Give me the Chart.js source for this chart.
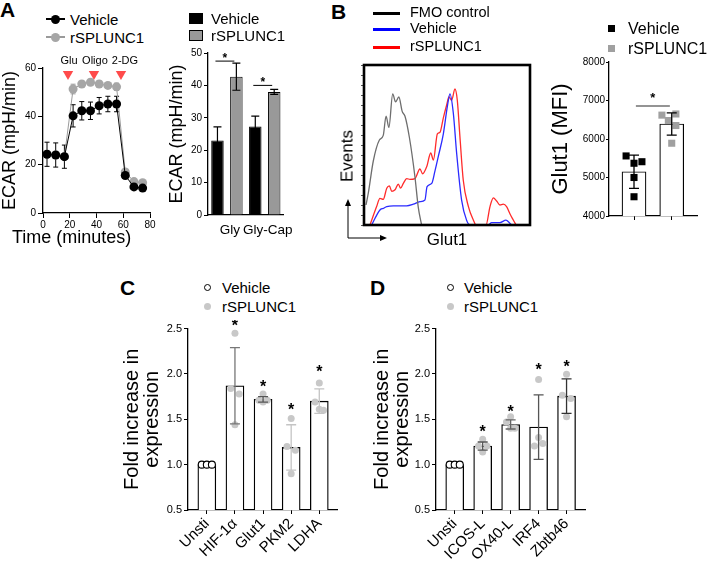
<!DOCTYPE html>
<html>
<head>
<meta charset="utf-8">
<script src="https://cdn.jsdelivr.net/npm/chart.js@4.4.1/dist/chart.umd.min.js"></script>
<style>
  body { margin: 0; background: #fff; }
  #page { position: relative; width: 709px; height: 563px; overflow: hidden; font-family: "Liberation Sans", Arial, sans-serif; color: #000; }
  #page canvas { position: absolute; }
  .t { position: absolute; white-space: nowrap; }
  .mk { position: absolute; box-sizing: border-box; }
</style>
</head>
<body>
<div id="page"></div>
<script>
// ---- A: ECAR time course ----
const seahorseTime = [3, 9.5, 16, 22.5, 29, 35.5, 42, 48.5, 55, 61.5, 68, 74.5];
const ecarVehicle = [24.3, 24, 23.3, 40.2, 42.3, 42.3, 44.4, 45.1, 45.1, 15.5, 10.8, 10.3];
const ecarVehicleSem = [5, 5, 4.8, 4.6, 3.8, 3.6, 3.4, 3.2, 3.2, 1.2, 1, 1];
const ecarSplunc = [24.3, 24, 23.3, 51.3, 53.4, 54.1, 53.4, 52.8, 52.2, 17, 13, 12.5];
const ecarSpluncSem = [1, 1, 1, 2, 1, 1, 1.2, 1, 1.5, 1, 1, 1];
const injectTime = [18.7, 38.1, 58.3];
const injectName = ['Glu', 'Oligo', '2-DG'];
const injectMark = 57.5;

// ---- A: glycolysis / glycolytic capacity ----
const glyCats = ['Gly', 'Gly-Cap'];
const glyVehicle = [23, 27.3];
const glyVehicleSem = [4.2, 3.2];
const glySplunc = [42.7, 38];
const glySpluncSem = [4.2, 0.8];
const glySigAt = [47.5, 40];

// ---- B: Glut1 histogram (% of max) ----
const fmoX = [1.2, 2.6, 5.6, 9.2, 11.6, 13.3, 15, 17.3, 19, 21, 23, 24.7, 27.3, 30.7, 32.7, 34.7];
const fmoY = [12.5, 20, 40, 53, 56, 68, 61, 82, 77, 80, 71, 68, 55, 30, 11, 0];
const vehX = [4.6, 9.6, 11.6, 13.7, 17.7, 25.7, 29.7, 33.7, 36.7, 38, 40.8, 42.8, 44.8, 47.8, 50.2, 51.8, 53.8, 55.8, 58.8, 61.8, 63.9, 74.9, 76.9, 81.9, 85.5, 88, 89];
const vehY = [0, 9.4, 10.4, 11.5, 12, 12, 13, 14.6, 15.6, 24, 26, 34, 43, 57, 74, 82, 70, 45, 15.6, 3, 0, 0, 1.5, 1.5, 3, 1, 0];
const splX = [3.6, 7.6, 9.6, 11.6, 13.7, 15.3, 16.7, 18.7, 20.7, 22, 23.7, 25.7, 27.7, 30.7, 33.7, 35.3, 37.8, 40.2, 41.8, 44.2, 45.8, 47.8, 49.8, 51.2, 52.8, 54.8, 56.2, 57.8, 59.8, 62.9, 65.9, 67.5, 73.5, 75.9, 77.9, 79.9, 81.9, 83.9, 85.9, 87.9, 90, 91.6];
const splY = [0, 11.5, 16.7, 16, 23, 24.4, 21, 22, 25.6, 23, 26, 29, 28.5, 29, 35, 32, 36.5, 45, 40.6, 57, 58, 67, 75, 80, 78, 85, 78, 55, 28, 11.5, 3, 0, 0, 11.5, 17, 15, 12.5, 13, 11.5, 7, 3, 0];

// ---- B: Glut1 MFI ----
const mfiGroups = ['Vehicle', 'rSPLUNC1'];
const mfiMean = [5150, 6390];
const mfiSd = [433, 290];
const mfiVehicle = [5560, 5370, 5410, 5000, 4500];
const mfiSplunc = [6620, 6650, 6480, 6350, 5890];
const mfiSigAt = 6857;

// ---- C: glycolysis genes ----
const glycoGenes = ['Unsti', 'HIF-1\u03b1', 'Glut1', 'PKM2', 'LDHA'];
const glycoFold = [1.0, 1.87, 1.72, 1.19, 1.70];
const glycoSd = [0, 0.42, 0.03, 0.25, 0.135];
const glycoReps = [[1, 1, 1], [2.45, 1.84, 1.78, 1.44], [1.78, 1.71, 1.71, 1.69], [1.51, 1.20, 1.16, 0.90], [1.90, 1.69, 1.60, 1.61]];
const glycoStar = [null, 2.57, 1.90, 1.645, 2.07];

// ---- D: DC activation genes ----
const costimGenes = ['Unsti', 'ICOS-L', 'OX40-L', 'IRF4', 'Zbtb46'];
const costimFold = [1.0, 1.205, 1.443, 1.414, 1.755];
const costimSd = [0, 0.045, 0.05, 0.355, 0.19];
const costimReps = [[1, 1, 1], [1.28, 1.205, 1.205, 1.14], [1.527, 1.47, 1.40, 1.40], [1.94, 1.205, 1.234, 1.30], [1.997, 1.766, 1.73, 1.527]];
const costimStar = [null, 1.41, 1.63, 2.09, 2.12];

Chart.defaults.font.family = '"Liberation Sans", Arial, sans-serif';
Chart.defaults.color = '#000';
Chart.defaults.animation = false;
Chart.defaults.responsive = false;
Chart.defaults.devicePixelRatio = 1;
Chart.defaults.plugins.legend.display = false;
Chart.defaults.plugins.tooltip.enabled = false;

const page = document.getElementById('page');
const zip = (xs, ys) => xs.map((x, i) => ({ x: x, y: ys[i] }));
const fixW = w => s => { s.width = w; };
const fixH = h => s => { s.height = h; };
const axisBorder = { display: true, color: '#000', width: 1.3 };
const tickGrid = len => ({ drawOnChartArea: false, tickLength: len, color: '#000', lineWidth: 1 });
const spread = { 3: [-0.18, 0, 0.18], 4: [0, -0.15, 0.15, 0] };

function makeCanvas(left, top, w, h) {
    let c = document.createElement('canvas');
    c.width = w;
    c.height = h;
    c.style.left = left + 'px';
    c.style.top = top + 'px';
    page.appendChild(c);
    return c.getContext('2d');
}

function addText(str, x, y, size, extra) {
    let el = document.createElement('div');
    el.className = 't';
    el.textContent = str;
    el.style.left = x + 'px';
    el.style.top = (y - size * 0.5) + 'px';
    el.style.fontSize = size + 'px';
    el.style.lineHeight = size + 'px';
    if (extra) Object.assign(el.style, extra);
    page.appendChild(el);
    return el;
}

function addMark(x, y, w, h, css) {
    let el = document.createElement('div');
    el.className = 'mk';
    el.style.left = x + 'px';
    el.style.top = y + 'px';
    el.style.width = w + 'px';
    el.style.height = h + 'px';
    Object.assign(el.style, css);
    page.appendChild(el);
}

function drawErr(ctx, x, top, bot, half) {
    ctx.beginPath();
    ctx.moveTo(x, top); ctx.lineTo(x, bot);
    ctx.moveTo(x - half, top); ctx.lineTo(x + half, top);
    ctx.moveTo(x - half, bot); ctx.lineTo(x + half, bot);
    ctx.stroke();
}

function drawStar(ctx, x, y, size) {
    ctx.font = 'bold ' + size + 'px "Liberation Sans"';
    ctx.textAlign = 'center';
    ctx.textBaseline = 'alphabetic';
    ctx.fillText('*', x, y + size * 0.57);
}

// replicate dots spread around each category index
function repPoints(reps, idxs) {
    let pts = [];
    idxs.forEach(i => {
        let jit = spread[reps[i].length] || reps[i].map(() => 0);
        reps[i].forEach((v, k) => pts.push({ x: i + jit[k], y: v }));
    });
    return pts;
}

/* ---------- A, left: ECAR kinetics ---------- */
const seahorseDecor = {
    id: 'seahorseDecor',
    beforeDatasetsDraw(chart) {
        const { ctx, scales: { x, y } } = chart;
        ctx.save();
        ctx.lineWidth = 1;
        [[ecarSplunc, ecarSpluncSem, '#9a9a9a'], [ecarVehicle, ecarVehicleSem, '#000']].forEach(([m, e, col]) => {
            ctx.strokeStyle = col;
            m.forEach((v, i) => drawErr(ctx, x.getPixelForValue(seahorseTime[i]),
                y.getPixelForValue(v + e[i]), y.getPixelForValue(v - e[i]), 2.5));
        });
        ctx.restore();
    },
    afterDatasetsDraw(chart) {
        const { ctx, scales: { x, y } } = chart;
        ctx.save();
        ctx.fillStyle = '#000';
        ctx.font = '11px "Liberation Sans"';
        ctx.textAlign = 'center';
        ctx.textBaseline = 'middle';
        injectTime.forEach((t, i) => ctx.fillText(injectName[i], x.getPixelForValue(t) + (i === 2 ? 4 : 1), y.getPixelForValue(injectMark) - 13));
        ctx.restore();
    }
};

new Chart(makeCanvas(0, 50, 165, 200), {
    type: 'line',
    data: {
        datasets: [
            { label: 'Vehicle', data: zip(seahorseTime, ecarVehicle), borderColor: '#000', borderWidth: 1,
              pointRadius: 4.5, pointBackgroundColor: '#000', pointBorderWidth: 0, order: 0 },
            { label: 'rSPLUNC1', data: zip(seahorseTime, ecarSplunc), borderColor: '#9a9a9a', borderWidth: 1,
              pointRadius: 4.5, pointBackgroundColor: '#a6a6a6', pointBorderWidth: 0, order: 1 },
            { label: 'injection', data: injectTime.map(t => ({ x: t, y: injectMark })), showLine: false,
              pointStyle: 'triangle', pointRotation: 180, pointRadius: 6, pointBackgroundColor: '#ff4b4b',
              pointBorderWidth: 0, order: 2, clip: false }
        ]
    },
    options: {
        layout: { padding: { top: 18, right: 15 } },
        scales: {
            x: { type: 'linear', min: 0, max: 80, ticks: { stepSize: 20, font: { size: 10 }, padding: 1 },
                 grid: tickGrid(5), border: axisBorder, afterFit: fixH(37) },
            y: { min: 0, max: 60, ticks: { stepSize: 20, font: { size: 10 }, padding: 2 },
                 grid: tickGrid(5), border: axisBorder, afterFit: fixW(43),
                 title: { display: true, text: 'ECAR (mpH/min)', font: { size: 18, lineHeight: 1 }, padding: { top: 1, bottom: 0 } } }
        }
    },
    plugins: [seahorseDecor]
});

/* ---------- A, right: Gly / Gly-Cap bars ---------- */
const glyDecor = {
    id: 'glyDecor',
    afterDatasetsDraw(chart) {
        const { ctx, scales: { y } } = chart;
        const veh = chart.getDatasetMeta(0).data;
        const spl = chart.getDatasetMeta(1).data;
        ctx.save();
        ctx.strokeStyle = '#000';
        ctx.lineWidth = 1.2;
        [[veh, glyVehicle, glyVehicleSem], [spl, glySplunc, glySpluncSem]].forEach(([bars, m, e]) => {
            bars.forEach((b, i) => drawErr(ctx, b.x, y.getPixelForValue(m[i] + e[i]), y.getPixelForValue(m[i] - e[i]), 4));
        });
        ctx.lineWidth = 1;
        ctx.fillStyle = '#000';
        glySigAt.forEach((v, i) => {
            const py = y.getPixelForValue(v);
            ctx.beginPath();
            ctx.moveTo(veh[i].x - 2, py); ctx.lineTo(spl[i].x - 2, py);
            ctx.stroke();
            drawStar(ctx, (veh[i].x + spl[i].x) / 2 - 2, py - 6, 12);
        });
        ctx.restore();
    }
};

new Chart(makeCanvas(168, 45, 130, 200), {
    type: 'bar',
    data: {
        labels: glyCats,
        datasets: [
            { label: 'Vehicle', data: glyVehicle, backgroundColor: '#000', borderColor: '#000', borderWidth: 1 },
            { label: 'rSPLUNC1', data: glySplunc, backgroundColor: '#999', borderColor: '#000', borderWidth: 1 }
        ]
    },
    options: {
        categoryPercentage: 1,
        barPercentage: 0.66,
        layout: { padding: { top: 8, right: 6 } },
        scales: {
            x: { ticks: { font: { size: 13.5 }, padding: 7, autoSkip: false, maxRotation: 0, minRotation: 0, labelOffset: 3 },
                 grid: { display: false, drawTicks: false },
                 border: axisBorder, afterFit: fixH(30) },
            y: { min: 0, max: 50, ticks: { stepSize: 10, font: { size: 10 }, padding: 2 },
                 grid: tickGrid(4), border: axisBorder, afterFit: fixW(40),
                 title: { display: true, text: 'ECAR (mpH/min)', font: { size: 18, lineHeight: 1 }, padding: { top: 0, bottom: 0 } } }
        }
    },
    plugins: [glyDecor]
});

/* ---------- B, left: Glut1 histogram ---------- */
const histFrame = {
    id: 'histFrame',
    afterDraw(chart) {
        const { ctx, chartArea: a } = chart;
        ctx.save();
        ctx.strokeStyle = '#000';
        ctx.lineWidth = 2.6;
        ctx.strokeRect(a.left, a.top, a.right - a.left, a.bottom - a.top);
        // axis arrows
        const ox = a.left - 16, oy = a.bottom + 13, len = 39;
        ctx.lineWidth = 1;
        ctx.beginPath();
        ctx.moveTo(ox, oy - len + 5); ctx.lineTo(ox, oy); ctx.lineTo(ox + len - 5, oy);
        ctx.stroke();
        ctx.fillStyle = '#000';
        ctx.beginPath();
        ctx.moveTo(ox, oy - len); ctx.lineTo(ox - 3, oy - len + 7); ctx.lineTo(ox + 3, oy - len + 7); ctx.closePath();
        ctx.moveTo(ox + len, oy); ctx.lineTo(ox + len - 7, oy - 3); ctx.lineTo(ox + len - 7, oy + 3); ctx.closePath();
        ctx.fill();
        ctx.restore();
    }
};

new Chart(makeCanvas(335, 55, 200, 200), {
    type: 'line',
    data: {
        datasets: [
            { label: 'FMO control', data: zip(fmoX, fmoY), borderColor: '#6e6e6e' },
            { label: 'Vehicle', data: zip(vehX, vehY), borderColor: '#2b2bff' },
            { label: 'rSPLUNC1', data: zip(splX, splY), borderColor: '#ff2b2b' }
        ]
    },
    options: {
        elements: { point: { radius: 0 }, line: { borderWidth: 1.3, cubicInterpolationMode: 'monotone' } },
        layout: { padding: { top: 10, right: 5 } },
        scales: {
            x: { type: 'linear', min: 0, max: 100, ticks: { display: false }, grid: { display: false },
                 border: { display: false }, afterFit: fixH(30),
                 title: { display: true, text: 'Glut1', font: { size: 17, lineHeight: 1 }, padding: { top: 0, bottom: 6.5 } } },
            y: { min: 0, max: 100, ticks: { display: false, stepSize: 6.25 },
                 grid: { drawOnChartArea: false, tickLength: 3, color: '#555' }, border: { display: false }, afterFit: fixW(29) }
        }
    },
    plugins: [histFrame]
});

/* ---------- B, right: Glut1 MFI ---------- */
const mfiJitter = [[-0.21, 0, 0.21, 0, 0], [-0.26, 0.11, -0.09, 0.11, 0]];
const mfiDecor = {
    id: 'mfiDecor',
    afterDatasetsDraw(chart) {
        const { ctx, scales: { x, y } } = chart;
        ctx.save();
        ctx.strokeStyle = '#000';
        ctx.lineWidth = 1.3;
        mfiMean.forEach((m, i) => drawErr(ctx, x.getPixelForValue(i), y.getPixelForValue(m + mfiSd[i]), y.getPixelForValue(m - mfiSd[i]), 5));
        const py = y.getPixelForValue(mfiSigAt);
        ctx.strokeStyle = '#707070';
        ctx.lineWidth = 1.3;
        ctx.beginPath();
        ctx.moveTo(x.getPixelForValue(0.05), py); ctx.lineTo(x.getPixelForValue(0.95), py);
        ctx.stroke();
        ctx.fillStyle = '#000';
        drawStar(ctx, x.getPixelForValue(0.5), py - 11, 13);
        ctx.restore();
    }
};

new Chart(makeCanvas(545, 50, 164, 190), {
    type: 'bar',
    data: {
        datasets: [
            { type: 'line', label: mfiGroups[0], data: mfiVehicle.map((v, k) => ({ x: mfiJitter[0][k], y: v })), showLine: false,
              pointStyle: 'rect', pointRadius: 5, pointBackgroundColor: '#000', pointBorderWidth: 0, order: 0 },
            { type: 'line', label: mfiGroups[1], data: mfiSplunc.map((v, k) => ({ x: 1 + mfiJitter[1][k], y: v })), showLine: false,
              pointStyle: 'rect', pointRadius: 5, pointBackgroundColor: '#a0a0a0', pointBorderWidth: 0, order: 1 },
            { label: 'mean', data: mfiMean.map((v, i) => ({ x: i, y: v })), backgroundColor: '#fff', borderColor: '#000',
              borderWidth: 1.2, barThickness: 24, order: 2 }
        ]
    },
    options: {
        layout: { padding: { top: 12, right: 12 } },
        scales: {
            x: { type: 'linear', min: -0.663, max: 1.67, offset: false,
                 afterBuildTicks: s => { s.ticks = mfiGroups.map((g, i) => ({ value: i })); },
                 ticks: { display: false }, grid: Object.assign(tickGrid(4), { offset: false }),
                 border: axisBorder, afterFit: fixH(24) },
            y: { min: 4000, max: 8000, ticks: { stepSize: 1000, font: { size: 10 }, padding: 1, callback: v => String(v) },
                 grid: tickGrid(3), border: axisBorder, afterFit: fixW(64),
                 title: { display: true, text: 'Glut1 (MFI)', font: { size: 22, lineHeight: 1 }, padding: { top: 5, bottom: 0 } } }
        }
    },
    plugins: [mfiDecor]
});

/* ---------- C / D: fold change bars ---------- */
function foldDecor(means, sds, stars, errColors) {
    return {
        id: 'foldDecor',
        afterDatasetsDraw(chart) {
            const { ctx, scales: { x, y } } = chart;
            ctx.save();
            ctx.lineWidth = 1.3;
            means.forEach((m, i) => {
                if (!sds[i]) return;
                ctx.strokeStyle = errColors[i];
                drawErr(ctx, x.getPixelForValue(i), y.getPixelForValue(m + sds[i]), y.getPixelForValue(m - sds[i]), 5);
            });
            ctx.fillStyle = '#000';
            stars.forEach((s, i) => {
                if (s == null) return;
                drawStar(ctx, x.getPixelForValue(i), y.getPixelForValue(s), 16);
            });
            ctx.restore();
        }
    };
}

function foldChart(left, yW, padRight, genes, fold, sd, reps, stars, errColors, xMin, xMax) {
    return new Chart(makeCanvas(left, 320, 230, 243), {
        type: 'bar',
        data: {
            datasets: [
                { type: 'line', label: 'Vehicle', data: repPoints(reps, [0]), showLine: false, pointRadius: 3.5,
                  pointBackgroundColor: '#fff', pointBorderColor: '#000', pointBorderWidth: 1.1, order: 0 },
                { type: 'line', label: 'rSPLUNC1', data: repPoints(reps, [1, 2, 3, 4]), showLine: false, pointRadius: 3.5,
                  pointBackgroundColor: '#c8c8c8', pointBorderWidth: 0, order: 1 },
                { label: 'mean', data: fold.map((v, i) => ({ x: i, y: v })), backgroundColor: '#fff', borderColor: '#000',
                  borderWidth: 1.3, barThickness: 18, order: 2 }
            ]
        },
        options: {
            layout: { padding: { top: 8, right: padRight } },
            scales: {
                x: { type: 'linear', min: xMin, max: xMax, offset: false,
                     afterBuildTicks: s => { s.ticks = genes.map((g, i) => ({ value: i })); },
                     ticks: { autoSkip: false, minRotation: 45, maxRotation: 45, font: { size: 15 }, padding: 1,
                              callback: v => genes[v] },
                     grid: Object.assign(tickGrid(4), { offset: false }), border: axisBorder, afterFit: fixH(53) },
                y: { min: 0.5, max: 2.5, ticks: { stepSize: 0.5, font: { size: 11 }, padding: 2, callback: v => v.toFixed(1) },
                     grid: tickGrid(4), border: axisBorder, afterFit: fixW(yW),
                     title: { display: true, text: ['Fold increase in', 'expression'], font: { size: 20, lineHeight: 1 },
                              padding: { top: 7.5, bottom: 0 } } }
            }
        },
        plugins: [foldDecor(fold, sd, stars, errColors)]
    });
}

foldChart(115, 73, 8, glycoGenes, glycoFold, glycoSd, glycoReps, glycoStar,
    ['#000', '#777', '#555', '#c4c4c4', '#c4c4c4'], -0.67, 4.63);
foldChart(365, 71, 10, costimGenes, costimFold, costimSd, costimReps, costimStar,
    ['#000', '#555', '#666', '#555', '#333'], -0.67, 4.66);

/* ---------- html text: panel letters, legends, free axis labels ---------- */
addText('A', 0, 9.5, 21, { fontWeight: 'bold' });
addText('B', 331, 11.5, 21, { fontWeight: 'bold' });
addText('C', 120, 287, 21, { fontWeight: 'bold' });
addText('D', 370, 287, 21, { fontWeight: 'bold' });

// A left legend
addMark(46, 18, 19, 2, { background: '#000' });
addMark(50.5, 14.5, 9, 9, { background: '#000', borderRadius: '50%' });
addText('Vehicle', 70, 19, 15);
addMark(46, 36, 19, 2, { background: '#9a9a9a' });
addMark(50.5, 32.5, 9, 9, { background: '#a6a6a6', borderRadius: '50%' });
addText('rSPLUNC1', 70, 37, 15);
addText('Time (minutes)', 12, 237, 18);

// A right legend
addMark(189, 13, 14, 11, { background: '#000' });
addText('Vehicle', 211, 18.5, 15);
addMark(189, 30, 14, 11, { background: '#999', border: '1px solid #000' });
addText('rSPLUNC1', 211, 35.5, 15);

// B histogram legend
addMark(373, 11.5, 27, 3, { background: '#000' });
addText('FMO control', 410, 12, 14.5);
addMark(373, 27.5, 27, 3, { background: '#0000ff' });
addText('Vehicle', 410, 28.5, 14.5);
addMark(373, 45.5, 27, 3, { background: '#ff0000' });
addText('rSPLUNC1', 410, 46.5, 14.5);
let ev = addText('Events', 347, 156, 17);
ev.style.top = '156px';
ev.style.transform = 'translate(-50%, -50%) rotate(-90deg)';

// B MFI legend
addMark(608, 25, 6.5, 6.5, { background: '#000' });
addText('Vehicle', 628, 28.5, 16);
addMark(608, 45, 6.5, 6.5, { background: '#a0a0a0' });
addText('rSPLUNC1', 628, 48.5, 16);

// C / D legends
[[207, 222], [450, 464]].forEach(([mx, tx]) => {
    addMark(mx - 3.5, 283.5, 7, 7, { border: '1.1px solid #000', borderRadius: '50%', background: '#fff' });
    addText('Vehicle', tx, 287, 15);
    addMark(mx - 3.5, 302.5, 7, 7, { background: '#c8c8c8', borderRadius: '50%' });
    addText('rSPLUNC1', tx, 306.5, 15);
});
</script>
</body>
</html>
